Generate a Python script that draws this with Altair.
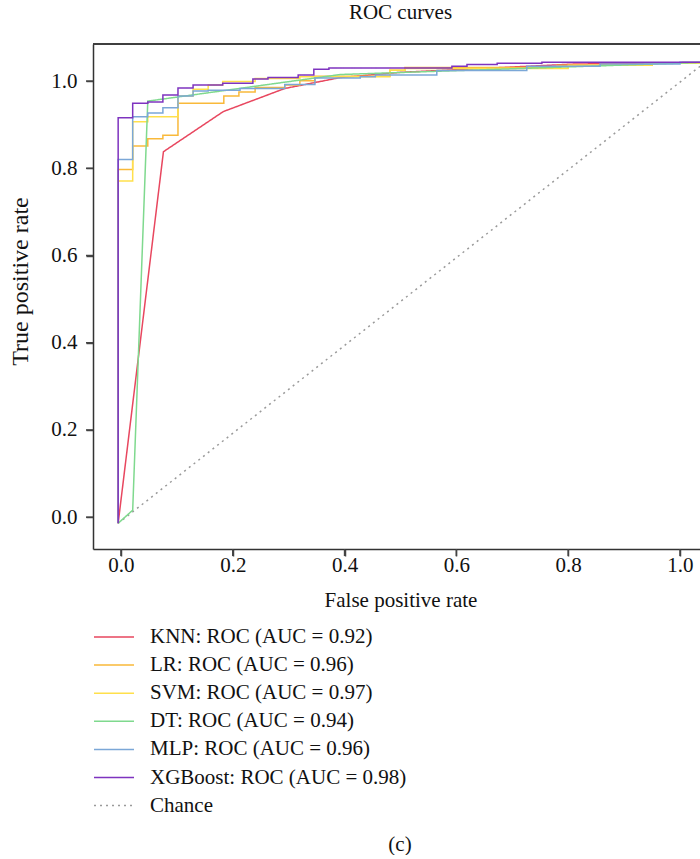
import altair as alt
import pandas as pd

# ROC curves for six classifiers, plus the chance diagonal
models = ["KNN", "LR", "SVM", "DT", "MLP", "XGBoost"]
auc = [0.92, 0.96, 0.97, 0.94, 0.96, 0.98]
colors = ["#E8475F", "#F9B93A", "#FFE04B", "#7FD98E", "#7BA7D7", "#7E33BF"]
chance_color = "#9A9A9A"
interp = ["linear", "step-after", "step-after", "linear", "step-after", "step-after"]

knn_fpr = [-0.005, 0.076, 0.183, 0.293, 0.392, 0.500, 0.810, 1.045]
knn_tpr = [-0.014, 0.838, 0.930, 0.983, 1.008, 1.020, 1.039, 1.043]

lr_fpr = [-0.005, -0.005, 0.021, 0.048, 0.075, 0.102, 0.184, 0.211, 0.240, 0.293,
          0.320, 0.347, 0.481, 0.508, 0.780, 0.950, 1.045]
lr_tpr = [-0.014, 0.797, 0.851, 0.868, 0.876, 0.949, 0.966, 0.975, 0.985, 0.991,
          1.001, 1.011, 1.025, 1.031, 1.036, 1.041, 1.043]

svm_fpr = [-0.005, -0.005, 0.021, 0.048, 0.102, 0.129, 0.156, 0.182, 0.240, 0.320,
           0.481, 0.508, 0.800, 0.950, 1.045]
svm_tpr = [-0.014, 0.771, 0.907, 0.918, 0.966, 0.981, 0.991, 0.999, 1.006, 1.010,
           1.025, 1.029, 1.036, 1.041, 1.043]

dt_fpr = [-0.005, 0.021, 0.048, 0.392, 1.045]
dt_tpr = [-0.014, 0.016, 0.954, 1.015, 1.043]

mlp_fpr = [-0.005, -0.005, 0.021, 0.048, 0.075, 0.102, 0.129, 0.156, 0.213, 0.293,
           0.347, 0.428, 0.455, 0.565, 0.726, 0.857, 1.000, 1.045]
mlp_tpr = [-0.014, 0.820, 0.918, 0.927, 0.939, 0.966, 0.977, 0.979, 0.983, 0.992,
           1.007, 1.010, 1.014, 1.024, 1.034, 1.039, 1.043, 1.043]

xgb_fpr = [-0.005, -0.005, 0.021, 0.048, 0.075, 0.102, 0.129, 0.182, 0.236, 0.263,
           0.317, 0.345, 0.372, 0.592, 0.619, 0.673, 0.753, 1.045]
xgb_tpr = [-0.014, 0.916, 0.949, 0.952, 0.968, 0.984, 0.991, 0.995, 1.005, 1.008,
           1.014, 1.027, 1.030, 1.034, 1.038, 1.041, 1.043, 1.043]

chance_fpr = [-0.005, 1.045]
chance_tpr = [-0.014, 1.043]

x_ticks = [0.0, 0.2, 0.4, 0.6, 0.8, 1.0]
y_ticks = [0.0, 0.2, 0.4, 0.6, 0.8, 1.0]
panel_label = "(c)"

curves = [(knn_fpr, knn_tpr), (lr_fpr, lr_tpr), (svm_fpr, svm_tpr),
          (dt_fpr, dt_tpr), (mlp_fpr, mlp_tpr), (xgb_fpr, xgb_tpr)]
labels = [f"{m}: ROC (AUC = {a:.2f})" for m, a in zip(models, auc)]
legend_domain = labels + ["Chance"]

FONT = "Liberation Serif"
FS = 21
W, H = 607, 505
TICK = 7
x_dom = [-0.05, 1.0358]
y_dom = [-0.073, 1.085]

color_scale = alt.Scale(domain=legend_domain, range=colors + [chance_color])
dash_scale = alt.Scale(domain=legend_domain, range=[[1, 0]] * 6 + [[2, 4]])
# long horizontal stroke symbol: twice the nominal symbol diameter
legend = alt.Legend(
    title=None, orient="none", legendX=10, legendY=582,
    symbolType="M-2,0L2,0", symbolSize=400, symbolStrokeWidth=1.5,
    labelFont=FONT, labelFontSize=21, labelColor="#111", labelLimit=0,
    labelOffset=25, rowPadding=7.1, padding=0,
)

x_axis = alt.Axis(values=x_ticks, format=".1f", title="False positive rate",
                  ticks=True, tickSize=TICK, tickWidth=1.5, tickColor="#444",
                  tickOpacity=1, labelPadding=-2, titlePadding=14, titleX=307.5)
y_axis = alt.Axis(values=y_ticks, format=".1f", title="True positive rate",
                  ticks=True, tickSize=TICK, tickWidth=1.5, tickColor="#444",
                  tickOpacity=1, labelPadding=9, titlePadding=18, titleFontSize=24,
                  titleY=237)

x_scale = alt.Scale(domain=x_dom, nice=False, zero=False)
y_scale = alt.Scale(domain=y_dom, nice=False, zero=False)


def layer_for(df, interpolate):
    return alt.Chart(df).mark_line(
        clip=True, strokeWidth=1.5, interpolate=interpolate
    ).encode(
        x=alt.X("fpr:Q", scale=x_scale, axis=x_axis),
        y=alt.Y("tpr:Q", scale=y_scale, axis=y_axis),
        color=alt.Color("model:N", scale=color_scale, legend=legend),
        strokeDash=alt.StrokeDash("model:N", scale=dash_scale, legend=legend),
        order="idx:Q",
    )


chance_df = pd.DataFrame({"fpr": chance_fpr, "tpr": chance_tpr,
                          "model": "Chance", "idx": range(len(chance_fpr))})

layers = [layer_for(chance_df, "linear")]
for (fx, fy), lab, ip in zip(curves, labels, interp):
    df = pd.DataFrame({"fpr": fx, "tpr": fy, "model": lab, "idx": range(len(fx))})
    layers.append(layer_for(df, ip))

# outward tick strokes, built as short two-point lines through the same scales
dx_tick = TICK * (x_dom[1] - x_dom[0]) / W
dy_tick = TICK * (y_dom[1] - y_dom[0]) / H
tick_rows = []
for v in x_ticks:
    tick_rows += [{"fpr": v, "tpr": y_dom[0], "k": f"x{v}"},
                  {"fpr": v, "tpr": y_dom[0] - dy_tick, "k": f"x{v}"}]
for v in y_ticks:
    tick_rows += [{"fpr": x_dom[0], "tpr": v, "k": f"y{v}"},
                  {"fpr": x_dom[0] - dx_tick, "tpr": v, "k": f"y{v}"}]
tick_strokes = alt.Chart(pd.DataFrame(tick_rows)).mark_line(
    color="#444", strokeWidth=1.5, clip=False
).encode(
    x=alt.X("fpr:Q", scale=x_scale, axis=x_axis),
    y=alt.Y("tpr:Q", scale=y_scale, axis=y_axis),
    detail="k:N",
)

# top border of the plot frame
frame_top = alt.Chart(chance_df).mark_rule(color="#333", strokeWidth=1.5).encode(
    x=alt.value(0), x2=alt.value(W), y=alt.value(0)
)

caption = alt.Chart(pd.DataFrame({"t": [panel_label]})).mark_text(
    font=FONT, fontSize=FS, color="#111", baseline="middle", align="center"
).encode(x=alt.value(307), y=alt.value(801), text="t:N")

chart = alt.layer(*layers, tick_strokes, frame_top, caption).properties(
    width=W, height=H,
    title=alt.TitleParams("ROC curves", font=FONT, fontSize=FS, fontWeight="normal",
                          color="#111", anchor="middle", offset=20, dx=4),
    autosize=alt.AutoSizeParams(type="none"),
    padding={"left": 93, "top": 44, "right": 0, "bottom": 306},
).configure_view(stroke=None).configure_axis(
    labelFont=FONT, labelFontSize=FS, labelColor="#111",
    titleFont=FONT, titleFontSize=FS, titleFontWeight="normal", titleColor="#111",
    domainColor="#333", domainWidth=1.5, grid=False,
)

chart.save("out.html", embed_options={"renderer": "svg", "actions": False})
